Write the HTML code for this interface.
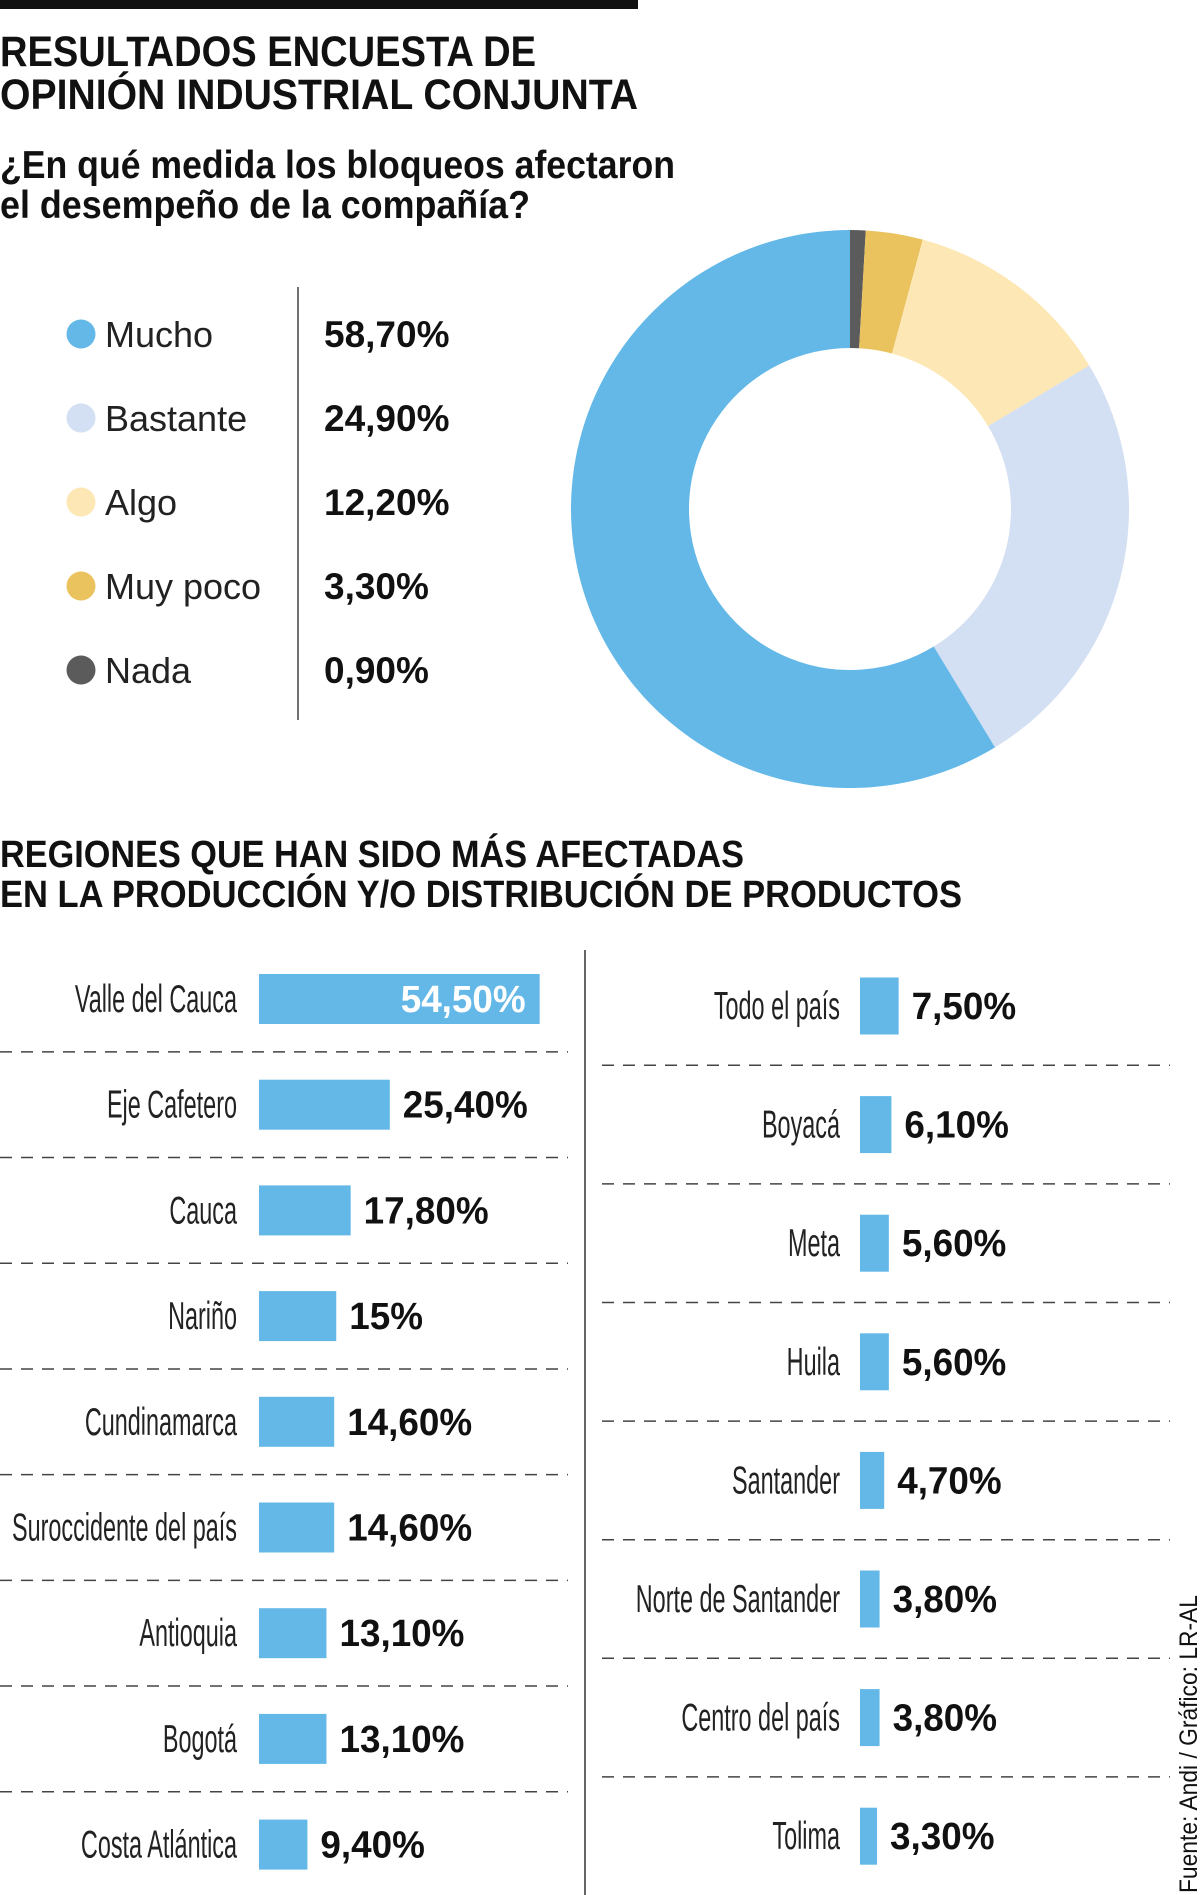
<!DOCTYPE html>
<html><head><meta charset="utf-8"><style>
html,body{margin:0;padding:0;background:#fff}
svg{display:block}
text{font-family:"Liberation Sans",sans-serif}
</style></head><body>
<svg id="c" width="1200" height="1895" viewBox="0 0 1200 1895" xmlns="http://www.w3.org/2000/svg">
<rect x="0" y="0" width="638" height="9" fill="#111"/>
<text x="0" y="66" font-size="43" font-weight="bold" fill="#111" textLength="536" lengthAdjust="spacingAndGlyphs">RESULTADOS ENCUESTA DE</text>
<text x="0" y="109" font-size="43" font-weight="bold" fill="#111" textLength="638" lengthAdjust="spacingAndGlyphs">OPINIÓN INDUSTRIAL CONJUNTA</text>
<text x="0" y="178" font-size="39" font-weight="bold" fill="#111" textLength="675" lengthAdjust="spacingAndGlyphs">¿En qué medida los bloqueos afectaron</text>
<text x="0" y="218" font-size="39" font-weight="bold" fill="#111" textLength="530" lengthAdjust="spacingAndGlyphs">el desempeño de la compañía?</text>
<line x1="298" y1="287" x2="298" y2="720" stroke="#444" stroke-width="1.5"/>
<g id="legend"></g>
<g id="donut"></g>
<text x="0" y="867" font-size="38" font-weight="bold" fill="#111" textLength="744" lengthAdjust="spacingAndGlyphs">REGIONES QUE HAN SIDO MÁS AFECTADAS</text>
<text x="0" y="907" font-size="38" font-weight="bold" fill="#111" textLength="962" lengthAdjust="spacingAndGlyphs">EN LA PRODUCCIÓN Y/O DISTRIBUCIÓN DE PRODUCTOS</text>
<line x1="585" y1="950" x2="585" y2="1895" stroke="#666" stroke-width="2"/>
<g id="bars"></g>
<text transform="translate(1197,1893) rotate(-90)" font-size="25" fill="#111" textLength="298" lengthAdjust="spacingAndGlyphs">Fuente: Andi / Gráfico: LR-AL</text>
</svg>
<script>
const donutLabels=["Mucho","Bastante","Algo","Muy poco","Nada"];
const donutValues=[58.7,24.9,12.2,3.3,0.9];
const donutValueLabels=["58,70%","24,90%","12,20%","3,30%","0,90%"];
const donutColors=["#63b8e8","#d3dff2","#fde8b5","#eac35e","#5b5b5b"];
const leftRegions=["Valle del Cauca","Eje Cafetero","Cauca","Nariño","Cundinamarca","Suroccidente del país","Antioquia","Bogotá","Costa Atlántica"];
const leftValues=[54.5,25.4,17.8,15,14.6,14.6,13.1,13.1,9.4];
const leftValueLabels=["54,50%","25,40%","17,80%","15%","14,60%","14,60%","13,10%","13,10%","9,40%"];
const rightRegions=["Todo el país","Boyacá","Meta","Huila","Santander","Norte de Santander","Centro del país","Tolima"];
const rightValues=[7.5,6.1,5.6,5.6,4.7,3.8,3.8,3.3];
const rightValueLabels=["7,50%","6,10%","5,60%","5,60%","4,70%","3,80%","3,80%","3,30%"];

const NS="http://www.w3.org/2000/svg";
function mk(tag,attrs,parent,txt){const e=document.createElementNS(NS,tag);for(const k in attrs)e.setAttribute(k,attrs[k]);if(txt!==undefined)e.textContent=txt;parent.appendChild(e);return e;}

const lg=document.getElementById('legend');
donutLabels.forEach((l,i)=>{
  const y=334+i*84;
  const c=mk('circle',{cx:81,cy:y,r:14.5,fill:donutColors[i]},lg);
  
  
  const t=mk('text',{x:105,y:y+13,'font-size':36,fill:'#222'},lg,l);
  
  
  const v=mk('text',{x:324,y:y+13,'font-size':37,'font-weight':'bold',fill:'#111'},lg,donutValueLabels[i]);
  
  
});

const dg=document.getElementById('donut');
const cx=850,cy=509,R=279,r=161;
const total=donutValues.reduce((a,b)=>a+b,0);
let ang=0;
[4,3,2,1,0].forEach(i=>{
  const a0=ang, a1=ang+donutValues[i]/total*2*Math.PI; ang=a1;
  const p=(rad,a)=>[cx+rad*Math.sin(a),cy-rad*Math.cos(a)];
  const large=(a1-a0)>Math.PI?1:0;
  const [x0,y0]=p(R,a0),[x1,y1]=p(R,a1),[x2,y2]=p(r,a1),[x3,y3]=p(r,a0);
  const d=`M${x0},${y0}A${R},${R} 0 ${large} 1 ${x1},${y1}L${x2},${y2}A${r},${r} 0 ${large} 0 ${x3},${y3}Z`;
  const s=mk('path',{d:d,fill:donutColors[i]},dg);
  
  
});

const bg=document.getElementById('bars');
const unit=5.15;
function xs(v){return v*unit;}
function drawCol(regions,values,labels,x0,labelX,cy0,step,bh,divX1,divX2,prefix){
  regions.forEach((name,i)=>{
    const cy=cy0+i*step;
    const w=xs(values[i]);
    const b=mk('rect',{x:x0,y:cy-bh/2,width:w,height:bh,fill:'#63b8e8'},bg);
    
    
    const t=mk('text',{transform:`translate(${labelX},${cy+13}) scale(0.6,1)`,'text-anchor':'end','font-size':39,fill:'#222'},bg,name);
    
    
    let v;
    if(w>150){
      v=mk('text',{transform:`translate(${x0+w-14},${cy+13}) scale(0.97,1)`,'text-anchor':'end','font-size':38,'font-weight':'bold',fill:'#fff'},bg,labels[i]);
    }else{
      v=mk('text',{transform:`translate(${x0+w+13},${cy+13}) scale(0.97,1)`,'font-size':38,'font-weight':'bold',fill:'#111'},bg,labels[i]);
    }
    
    
    if(i<regions.length-1){
      const dy=cy+step/2;
      const ln=mk('line',{x1:divX1,y1:dy,x2:divX2,y2:dy,stroke:'#444','stroke-width':1.5,'stroke-dasharray':'12,9'},bg);
      
      
    }
  });
}
drawCol(leftRegions,leftValues,leftValueLabels,259,237,999,105.7,50,0,568,'left');
drawCol(rightRegions,rightValues,rightValueLabels,860,840,1006,118.6,57,602,1170,'right');
</script>
</body></html>
